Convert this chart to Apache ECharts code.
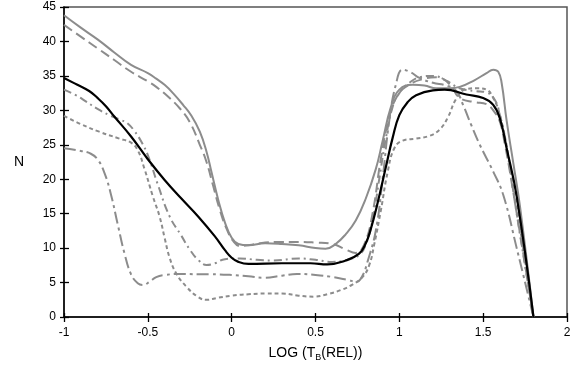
<!DOCTYPE html>
<html>
<head>
<meta charset="utf-8">
<script src="https://cdn.jsdelivr.net/npm/echarts@6/dist/echarts.min.js"></script>
<style>html,body{margin:0;padding:0;background:#fff;}#c{width:582px;height:372px;}</style>
</head>
<body>
<div id="c"></div>
<script>
// x-axis ticks (LOG T_B(REL)), y-axis ticks (N)
const xTicks = [-1, -0.5, 0, 0.5, 1, 1.5, 2];
const yTicks = [0, 5, 10, 15, 20, 25, 30, 35, 40, 45];

// black solid curve
const blackPts = [[-1,34.7],[-0.92,33.7],[-0.85,32.8],[-0.8,31.8],[-0.75,30.6],[-0.7,29.1],[-0.6,26.2],[-0.5,22.9],[-0.4,19.9],[-0.3,17.2],[-0.2,14.6],[-0.1,11.7],[-0.04,9.7],[0,8.6],[0.04,8.0],[0.1,7.7],[0.3,7.8],[0.47,7.8],[0.57,7.65],[0.68,8.2],[0.76,9.2],[0.8,10.7],[0.83,12.8],[0.87,16.5],[0.92,21.8],[0.96,26],[1.0,29.3],[1.05,31.2],[1.1,32.2],[1.2,32.9],[1.27,33],[1.4,32.3],[1.5,31.8],[1.56,30.8],[1.6,28.8],[1.64,24.5],[1.7,17.5],[1.8,0]];
// grey solid curve
const solidPts = [[-1,43.8],[-0.9,42],[-0.8,40.3],[-0.7,38.4],[-0.6,36.6],[-0.5,35.4],[-0.45,34.6],[-0.4,33.7],[-0.35,32.5],[-0.29,30.8],[-0.24,29.2],[-0.19,26.9],[-0.15,24],[-0.12,21],[-0.08,17],[-0.04,13.7],[0,11.5],[0.04,10.6],[0.1,10.4],[0.2,10.7],[0.3,10.6],[0.4,10.4],[0.5,10.0],[0.56,9.9],[0.62,10.6],[0.68,12],[0.74,14],[0.8,17.2],[0.86,21.5],[0.9,25.5],[0.95,30.5],[1.0,33],[1.08,33.7],[1.15,33.6],[1.22,33.2],[1.3,33.2],[1.36,33.4],[1.45,34.4],[1.52,35.4],[1.56,35.9],[1.59,35.6],[1.61,34],[1.64,28.5],[1.68,22.3],[1.72,16],[1.8,0]];
// grey long-dash curve
const dashPts = [[-1,42.4],[-0.9,40.7],[-0.8,39],[-0.7,37.3],[-0.6,35.6],[-0.5,34.2],[-0.45,33.4],[-0.38,32],[-0.31,30.3],[-0.25,28.3],[-0.19,25],[-0.15,22.5],[-0.11,19],[-0.07,15.5],[-0.03,12.8],[0.01,11],[0.05,10.3],[0.12,10.5],[0.2,10.8],[0.3,10.9],[0.4,10.9],[0.5,10.8],[0.6,10.6],[0.68,9.8],[0.74,9.3],[0.79,10.5],[0.84,15],[0.89,23],[0.94,29],[0.99,32.2],[1.05,33.6],[1.15,34.6],[1.22,34.8],[1.3,33.8],[1.36,31.8],[1.45,31.2],[1.52,30.9],[1.56,30],[1.6,28.3],[1.63,25],[1.66,21],[1.8,0]];
// grey dash-dot curve
const dashDotPts = [[-1,33],[-0.93,32.2],[-0.87,31.3],[-0.8,30.2],[-0.73,29.3],[-0.66,28.6],[-0.62,28.1],[-0.58,27],[-0.54,25.5],[-0.5,23.5],[-0.44,19.2],[-0.37,14.6],[-0.3,11.8],[-0.25,9.8],[-0.2,8.3],[-0.15,7.55],[-0.1,7.8],[-0.04,8.4],[0.05,8.5],[0.15,8.3],[0.25,8.2],[0.4,8.5],[0.5,8.3],[0.6,8.0],[0.69,8.3],[0.76,9],[0.8,10.5],[0.84,14],[0.88,20],[0.92,26],[0.96,30.5],[1.0,32.5],[1.06,34],[1.12,34.8],[1.2,35],[1.28,34.3],[1.36,33.2],[1.45,32.8],[1.52,32.6],[1.57,31.5],[1.6,29.3],[1.63,26],[1.7,15],[1.8,0]];
// grey dotted curve
const dotPts = [[-1,29.2],[-0.9,28],[-0.79,26.9],[-0.67,25.9],[-0.6,25.3],[-0.56,24.2],[-0.52,21.5],[-0.47,17.5],[-0.43,14.6],[-0.4,11.5],[-0.37,8.6],[-0.33,6.3],[-0.27,4.4],[-0.2,2.9],[-0.15,2.5],[-0.08,2.8],[0,3.1],[0.1,3.3],[0.2,3.4],[0.3,3.4],[0.4,3.1],[0.49,2.95],[0.57,3.3],[0.65,3.9],[0.72,4.7],[0.78,5.8],[0.82,7.5],[0.85,10.5],[0.89,15.5],[0.93,21],[0.97,24.5],[1.02,25.6],[1.1,25.9],[1.18,26.3],[1.24,27.2],[1.29,29],[1.34,31.7],[1.4,33.1],[1.47,33.2],[1.52,33],[1.56,31.8],[1.6,29.3],[1.66,22],[1.8,0]];
// grey long-dash-dot curve
const longDashDotPts = [[-1,24.5],[-0.9,24.1],[-0.84,23.7],[-0.8,22.9],[-0.76,21],[-0.72,17.8],[-0.68,13.5],[-0.64,9.3],[-0.6,6.2],[-0.56,4.9],[-0.53,4.65],[-0.49,5.1],[-0.45,5.8],[-0.4,6.1],[-0.3,6.25],[-0.2,6.2],[-0.13,6.2],[0,6.1],[0.1,5.9],[0.19,5.7],[0.3,6],[0.39,6.25],[0.5,6.1],[0.59,5.85],[0.69,5.4],[0.745,5.1],[0.78,6],[0.81,8],[0.86,12.6],[0.9,20],[0.94,28.5],[0.98,33.8],[1.02,35.9],[1.07,35.5],[1.12,34.7],[1.2,34],[1.28,33.6],[1.34,32.8],[1.38,30.8],[1.43,27.8],[1.48,25],[1.56,21.1],[1.62,17.7],[1.7,10],[1.8,0]];

const GREY = '#8c8c8c';
const FONT = 'Liberation Sans, Arial, sans-serif';

function line(data, color, width, type, z) {
  return {
    type: 'line', data: data, symbol: 'none', smooth: 0.45,
    lineStyle: { color: color, width: width, type: type, cap: 'butt', join: 'round' },
    z: z, silent: true
  };
}

const chart = echarts.init(document.getElementById('c'), null, { renderer: 'canvas' });
chart.setOption({
  animation: false,
  backgroundColor: '#fff',
  grid: { left: 64, right: 15, top: 7, bottom: 55, show: true, borderColor: '#555', borderWidth: 1.5, backgroundColor: 'transparent' },
  xAxis: [{
    type: 'value', min: xTicks[0], max: xTicks[xTicks.length - 1], interval: 0.5,
    name: 'LOG (T{sub|B}(REL))', nameLocation: 'middle', nameGap: 28,
    nameTextStyle: { color: '#000', fontFamily: FONT, fontSize: 14, rich: { sub: { fontSize: 9, fontFamily: FONT, color: '#000', padding: [8, 0, 0, 0] } } },
    axisLine: { show: true, onZero: false, lineStyle: { color: '#000', width: 1.5 } },
    axisTick: { show: true, inside: false, length: 5, lineStyle: { color: '#000', width: 1.3 } },
    axisLabel: { color: '#000', fontFamily: FONT, fontSize: 12, margin: 10 },
    splitLine: { show: false }
  }, {
    type: 'value', min: xTicks[0], max: xTicks[xTicks.length - 1], interval: 0.5, position: 'bottom',
    axisLine: { show: false, onZero: false }, axisLabel: { show: false }, splitLine: { show: false },
    axisTick: { show: true, inside: true, length: 4, lineStyle: { color: '#000', width: 1.3 } }
  }],
  yAxis: [{
    type: 'value', min: yTicks[0], max: yTicks[yTicks.length - 1], interval: 5,
    name: 'N', nameLocation: 'middle', nameRotate: 0, nameGap: 40,
    nameTextStyle: { color: '#000', fontFamily: FONT, fontSize: 14 },
    axisLine: { show: true, onZero: false, lineStyle: { color: '#000', width: 1.5 } },
    axisTick: { show: true, inside: false, length: 4, lineStyle: { color: '#000', width: 1.3 } },
    axisLabel: { color: '#000', fontFamily: FONT, fontSize: 12, margin: 8 },
    splitLine: { show: false }
  }, {
    type: 'value', min: yTicks[0], max: yTicks[yTicks.length - 1], interval: 5, position: 'left',
    axisLine: { show: false, onZero: false }, axisLabel: { show: false }, splitLine: { show: false },
    axisTick: { show: true, inside: true, length: 5, lineStyle: { color: '#000', width: 1.3 } }
  }],
  series: [
    line(longDashDotPts, GREY, 2, [12, 4, 3, 4], 2),
    line(dotPts, GREY, 2, [4, 3], 2),
    line(dashDotPts, GREY, 2, [8, 4, 2, 4], 2),
    line(dashPts, GREY, 2, [10, 5], 3),
    line(solidPts, GREY, 2, 'solid', 3),
    line(blackPts, '#000', 2.2, 'solid', 5)
  ]
});
</script>
</body>
</html>
